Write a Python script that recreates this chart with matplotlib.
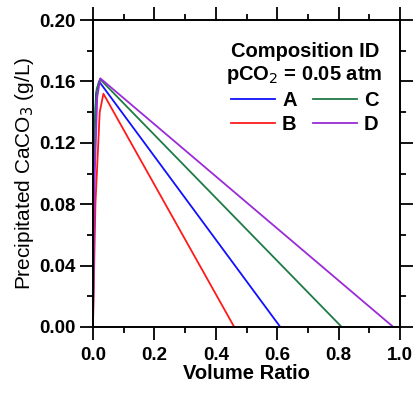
import matplotlib
matplotlib.use("Agg")
import matplotlib.pyplot as plt
from matplotlib.ticker import MultipleLocator

plt.rcParams["font.family"] = ["Liberation Sans", "DejaVu Sans"]

# Volume ratio / precipitated CaCO3 (g/L) per composition
a_x = [0.0, 0.004, 0.010, 0.020, 0.61, 1.0]
a_y = [0.0, 0.120, 0.152, 0.160, 0.0, 0.0]
b_x = [0.0, 0.008, 0.022, 0.034, 0.46, 1.0]
b_y = [0.0, 0.080, 0.140, 0.152, 0.0, 0.0]
c_x = [0.0, 0.004, 0.012, 0.023, 0.81, 1.0]
c_y = [0.0, 0.125, 0.155, 0.1615, 0.0, 0.0]
d_x = [0.0, 0.006, 0.014, 0.024, 0.978, 1.0]
d_y = [0.0, 0.100, 0.150, 0.162, 0.0, 0.0]
labels = ["A", "B", "C", "D"]
colors = ["#1010ff", "#ff1a1a", "#1f7a45", "#9a2bd6"]

fig = plt.figure(figsize=(4.15, 3.93), dpi=100)
ax = fig.add_axes([0.224, 0.168, 0.74, 0.781])

for xs, ys, lab, col in zip([a_x, b_x, c_x, d_x], [a_y, b_y, c_y, d_y], labels, colors):
    ax.plot(xs, ys, color=col, lw=1.3, label=lab)

ax.set_xlim(0, 1.0)
ax.set_ylim(0, 0.20)
ax.xaxis.set_major_locator(MultipleLocator(0.2))
ax.xaxis.set_minor_locator(MultipleLocator(0.1))
ax.yaxis.set_major_locator(MultipleLocator(0.04))
ax.yaxis.set_minor_locator(MultipleLocator(0.02))
ax.xaxis.set_major_formatter(lambda v, p: f"{v:.1f}")
ax.yaxis.set_major_formatter(lambda v, p: f"{v:.2f}")

for s in ax.spines.values():
    s.set_linewidth(1.4)
ax.tick_params(which="both", direction="out", top=True, right=True, width=1.3)
ax.tick_params(which="major", length=9.5)
ax.tick_params(which="minor", length=4.5)
ax.tick_params(axis="x", which="major", pad=5)
ax.tick_params(axis="y", which="major", pad=3)
ax.tick_params(labeltop=False, labelright=False)
for t in ax.get_xticklabels() + ax.get_yticklabels():
    t.set_fontsize(13.5)
    t.set_fontweight("bold")

ax.set_xlabel("Volume Ratio", fontsize=14.5, fontweight="bold", labelpad=0)
ax.set_ylabel("Precipitated CaCO$_3$ (g/L)", fontsize=15, labelpad=2)

leg = ax.legend(ncol=2, frameon=False, loc="upper right",
                bbox_to_anchor=(0.99, 0.975),
                title="Composition ID\npCO$_2$ = 0.05 atm",
                prop={"size": 14.5, "weight": "bold"},
                handlelength=2.2, handletextpad=0.35, columnspacing=0.8,
                labelspacing=0.25, borderpad=0.2)
leg.get_title().set_fontsize(14.5)
leg.get_title().set_fontweight("bold")
leg.get_title().set_multialignment("center")

fig.savefig("out.png", dpi=100)
